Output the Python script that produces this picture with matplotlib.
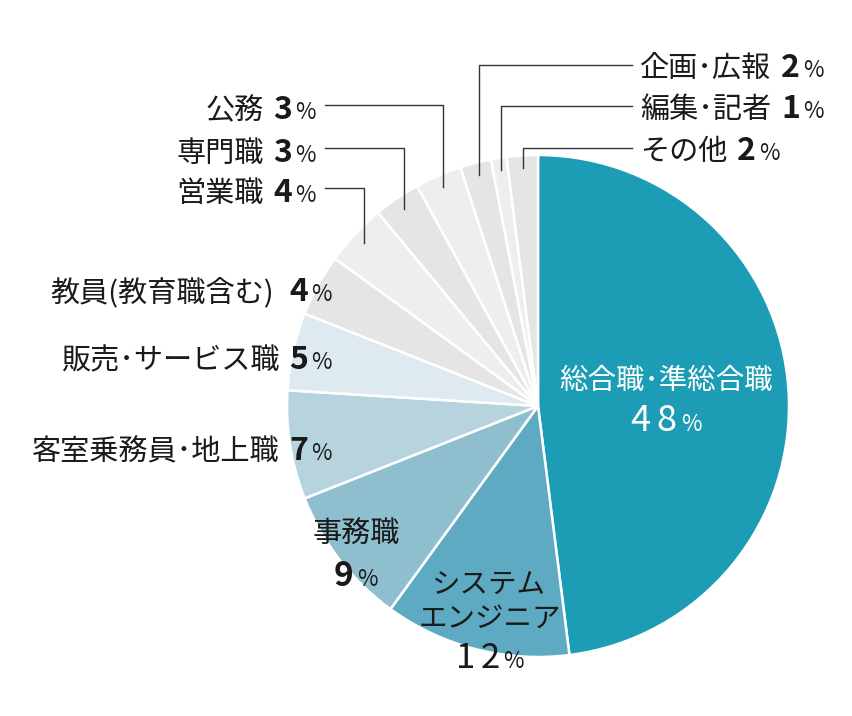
import numpy as np
import matplotlib
matplotlib.use("Agg")
import matplotlib.pyplot as plt

plt.rcParams["font.family"] = ["Noto Sans CJK JP", "DejaVu Sans"]

# 職種別の割合（12時の位置から時計回り）
categories = ["総合職･準総合職", "システム\nエンジニア", "事務職", "客室乗務員･地上職",
              "販売･サービス職", "教員(教育職含む)", "営業職", "専門職", "公務",
              "企画･広報", "編集･記者", "その他"]
shares = [48, 12, 9, 7, 5, 4, 4, 3, 3, 2, 1, 2]
colors = ["#1c9db5", "#5eaac2", "#8fbfcf", "#b7d4de", "#deeaf0", "#e5e5e5",
          "#edeeee", "#e5e5e5", "#edeeee", "#e5e5e5", "#edeeee", "#e5e5e5"]

W, H = 852, 716
CX, CY, R = 538, 406, 251
TXT = "#1a1a1a"
NAME_SIZE = 21
IN_SIZE = 20.5
NUM_SIZE = 23
PCT_SIZE = 16


def Y(py):
    # pixel row (from top) -> data y
    return H - py


fig = plt.figure(figsize=(W / 100, H / 100), dpi=100)
ax = fig.add_axes([0, 0, 1, 1])
wedges, _ = ax.pie(shares, colors=colors, startangle=90, counterclock=False,
                   center=(CX, Y(CY)), radius=R,
                   wedgeprops=dict(edgecolor="white", linewidth=1.8))
ax.set_xlim(0, W)
ax.set_ylim(0, H)
ax.set_aspect("auto")
ax.axis("off")

renderer = fig.canvas.get_renderer()


def runs(x, py, parts, ha="left", color=TXT):
    # parts: (text, size, weight, gap after) drawn side by side on one baseline
    items = []
    for text, size, weight, gap in parts:
        t = ax.text(0, Y(py), text, fontsize=size, fontweight=weight,
                    color=color, ha="left", va="baseline")
        w = t.get_window_extent(renderer).width
        items.append((t, w, gap))
    total = sum(w + g for _, w, g in items) - items[-1][2]
    if ha == "right":
        cur = x - total
    elif ha == "center":
        cur = x - total / 2
    else:
        cur = x
    for t, w, g in items:
        t.set_x(cur)
        cur += w + g


def outer(name, value, x, py, ha, gap=10):
    runs(x, py, [(name, NAME_SIZE, "normal", gap),
                 (str(value), NUM_SIZE, "bold", 3),
                 ("%", PCT_SIZE, "normal", 0)], ha=ha)


def anchor(i, frac=0.95):
    w = wedges[i]
    mid = np.deg2rad((w.theta1 + w.theta2) / 2)
    return CX + frac * R * np.cos(mid), CY - frac * R * np.sin(mid)


# 左上と右上の引き出し線付きラベル
left_lead = {6: 188, 7: 148, 8: 105}
right_lead = {9: 65, 10: 106, 11: 148}
for i, ly in left_lead.items():
    ax_, ay_ = anchor(i)
    ax.plot([ax_, ax_, 325], [Y(ay_), Y(ly), Y(ly)], color="#333333", lw=1.0)
    outer(categories[i], shares[i], 316, ly + 14, "right")
for i, ly in right_lead.items():
    ax_, ay_ = anchor(i)
    ax.plot([ax_, ax_, 632], [Y(ay_), Y(ly), Y(ly)], color="#333333", lw=1.0)
    outer(categories[i], shares[i], 640, ly + 12, "left")

# 左側のラベル
left_rows = {5: 301, 4: 369, 3: 460}
for i, by in left_rows.items():
    outer(categories[i], shares[i], 332, by, "right", gap=16 if i == 5 else 10)

# 円の内側のラベル
runs(666, 389, [(categories[0], IN_SIZE, "normal", 0)], ha="center", color="white")
runs(666, 431, [("4", 26, "normal", 6), ("8", 26, "normal", 4),
                ("%", PCT_SIZE, "normal", 0)], ha="center", color="white")

se1, se2 = categories[1].split("\n")
runs(489, 593, [(se1, IN_SIZE, "normal", 0)], ha="center")
runs(490, 627, [(se2, IN_SIZE, "normal", 0)], ha="center")
runs(490, 668, [("1", 25, "normal", 5), ("2", 25, "normal", 4),
                ("%", PCT_SIZE, "normal", 0)], ha="center")

runs(356, 543, [(categories[2], NAME_SIZE, "normal", 0)], ha="center")
runs(356, 586, [(str(shares[2]), 24, "bold", 4), ("%", PCT_SIZE, "normal", 0)],
     ha="center")

fig.savefig("out.png", dpi=100)
